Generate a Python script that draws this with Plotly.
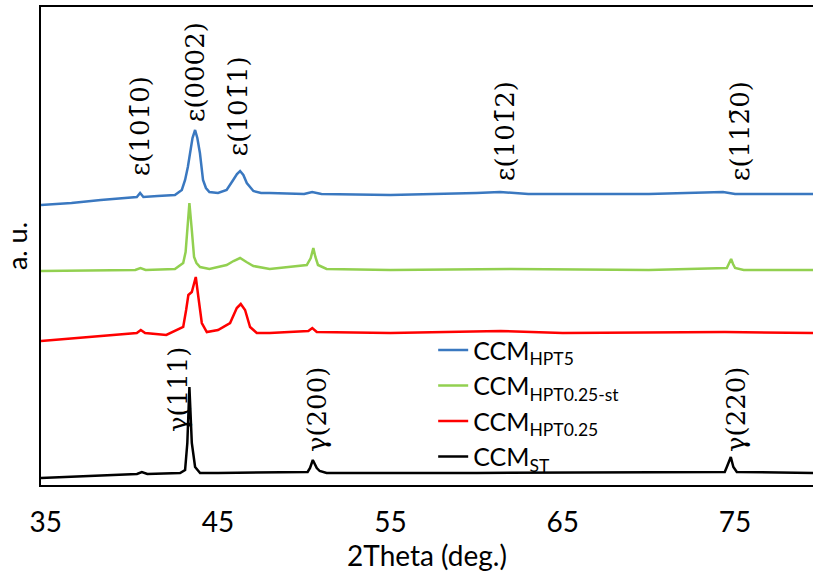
import plotly.graph_objects as go

# ---- data (2Theta in deg., intensity in arbitrary units, offset per series) ----
x_hpt5 = [34.73, 36.5, 38.2, 39.8, 40.29, 40.48, 40.67, 41.5, 42.5, 42.9, 43.09, 43.25, 43.37, 43.52, 43.67,
          43.8, 43.95, 44.13, 44.3, 44.5, 45.0, 45.5, 45.88, 46.1, 46.28, 46.47, 46.67, 47.05, 47.5, 48.0,
          50.0, 50.46, 51.0, 55.0, 60.0, 61.36, 63.0, 70.0, 74.3, 75.0, 79.52]
y_hpt5 = [280, 282, 285, 287, 288, 292, 288, 289, 290, 295, 305, 318, 332, 347, 355,
          347, 332, 305, 297, 293, 292, 295, 305, 311, 314, 310, 302, 294, 292, 292,
          291, 293, 291, 290, 292, 293, 291, 291, 293, 291, 291]

x_hpt025st = [34.73, 38.0, 40.2, 40.5, 40.8, 42.5, 42.98, 43.12, 43.22, 43.34, 43.48, 43.61, 43.75, 43.96,
              44.5, 45.5, 45.9, 46.28, 46.65, 47.05, 48.0, 50.15, 50.38, 50.53, 50.65, 50.8, 51.3, 55.0,
              62.0, 70.0, 74.52, 74.65, 74.77, 74.88, 75.0, 75.5, 79.52]
y_hpt025st = [214, 215, 215, 217, 215, 216, 222, 233, 255, 282, 255, 228, 222, 218,
              216, 220, 224, 227, 223, 219, 216, 220, 227, 237, 228, 220, 216, 215,
              216, 215, 217, 221, 226, 221, 217, 215, 215]

x_hpt025 = [34.73, 38.15, 40.29, 40.52, 40.77, 42.0, 42.98, 43.15, 43.28, 43.48, 43.6, 43.71, 43.86, 44.06,
            44.35, 45.0, 45.7, 46.09, 46.32, 46.57, 46.86, 47.25, 48.0, 50.24, 50.47, 50.73, 55.0, 61.4,
            65.0, 74.4, 79.52]
y_hpt025 = [144, 149, 152, 155, 152, 150, 158, 175, 190, 193, 200, 208, 188, 162,
            153, 155, 162, 177, 181, 175, 158, 152, 152, 154, 157, 153, 152, 154,
            152, 153, 152]

x_st = [34.73, 38.0, 40.3, 40.58, 40.9, 42.8, 43.09, 43.22, 43.34, 43.48, 43.67, 43.96, 45.0, 50.2, 50.34,
        50.5, 50.73, 50.9, 51.3, 60.0, 74.4, 74.52, 74.75, 74.9, 75.1, 79.52]
y_st = [7, 9, 11, 13, 11, 12, 15, 42, 98, 42, 18, 12, 12, 13, 17,
        25, 17, 14, 12, 12, 13, 18, 28, 18, 13, 12]

series_names = ["CCM<sub>HPT5</sub>", "CCM<sub>HPT0.25-st</sub>", "CCM<sub>HPT0.25</sub>", "CCM<sub>ST</sub>"]
series_colors = ["#3A78C0", "#92D050", "#FF0000", "#000000"]

peak_labels = ["ε(101\u03040)", "ε(0002)", "ε(101\u03041)", "ε(101\u03042)", "ε(112\u03040)",
               "γ(111)", "γ(200)", "γ(220)"]
peak_x = [40.48, 43.67, 46.17, 61.65, 75.29, 42.68, 50.75, 75.05]
peak_y = [359, 413, 379, 354, 354, 95, 75, 76]

tick_vals = [35, 45, 55, 65, 75]
tick_text = ["35", "45", "55", "65", "75"]

fig = go.Figure()
for xs, ys, name, col in zip([x_hpt5, x_hpt025st, x_hpt025, x_st],
                             [y_hpt5, y_hpt025st, y_hpt025, y_st],
                             series_names, series_colors):
    fig.add_trace(go.Scatter(x=xs, y=ys, mode="lines", name=name,
                             line=dict(color=col, width=2.5)))

for t, px, py in zip(peak_labels, peak_x, peak_y):
    fig.add_annotation(x=px, y=py, xref="x", yref="y", text=t, textangle=-90,
                       showarrow=False, font=dict(family="DejaVu Serif", size=26, color="black"))

fig.update_layout(
    width=813, height=579,
    margin=dict(l=41, r=0, t=7, b=94),
    paper_bgcolor="white", plot_bgcolor="white",
    showlegend=True,
    legend=dict(x=0.508, y=0.33, xanchor="left", yanchor="top",
                font=dict(family="Lato", size=25, color="black"),
                bgcolor="rgba(255,255,255,0)", tracegroupgap=0),
    font=dict(family="Lato", color="black"),
)
fig.update_xaxes(range=[34.73, 79.52], tickvals=tick_vals, ticktext=tick_text,
                 showgrid=False, zeroline=False, showline=True, linecolor="black", linewidth=2,
                 mirror=True, ticks="", ticklabelstandoff=11,
                 tickfont=dict(family="Lato", size=28, color="black"),
                 title=dict(text="2Theta (deg.)", font=dict(family="Lato", size=28, color="black"),
                            standoff=0))
fig.update_yaxes(range=[0, 478], showticklabels=False, ticks="", showgrid=False, zeroline=False,
                 showline=True, linecolor="black", linewidth=2, mirror=False,
                 title=dict(text="a. u.", font=dict(family="Lato", size=27, color="black"), standoff=4))

fig.write_html("out.html", config={"displayModeBar": False},
               post_script="document.body.style.margin='0';")
